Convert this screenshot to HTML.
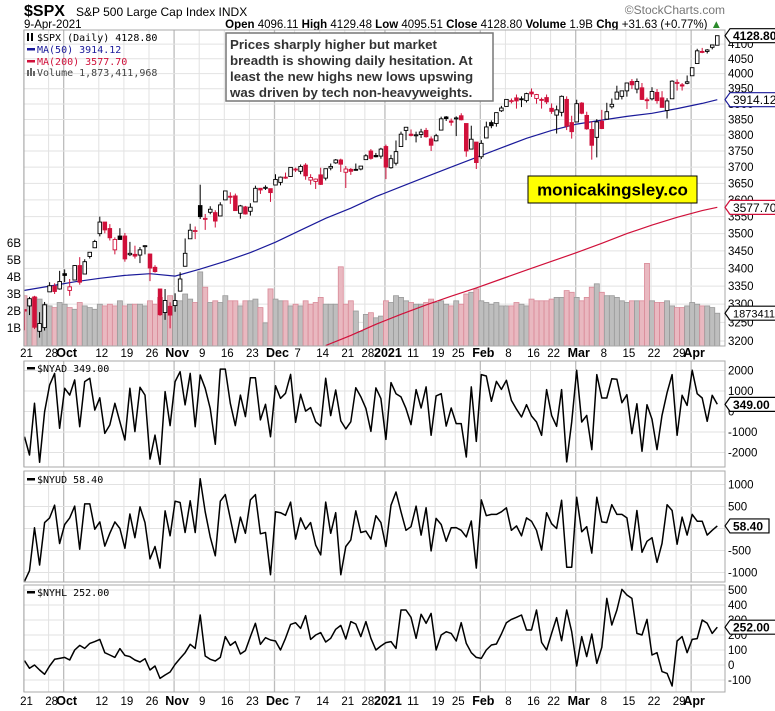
<!DOCTYPE html>
<html><head><meta charset="utf-8"><style>
html,body{margin:0;padding:0;background:#fff;}
svg{display:block;font-family:"Liberation Sans",Arial,sans-serif;}
</style></head><body>
<svg id="chart" width="775" height="711" viewBox="0 0 775 711" xmlns="http://www.w3.org/2000/svg">
<text x="24" y="16" font-size="16" font-weight="bold" fill="#000">$SPX</text>
<text x="76" y="16" font-size="12" fill="#000">S&amp;P 500 Large Cap Index  INDX</text>
<text x="24" y="28" font-size="11.5" fill="#000">9-Apr-2021</text>
<text x="722" y="28" font-size="11.5" text-anchor="end" fill="#000"><tspan font-weight="bold">Open</tspan> 4096.11 <tspan font-weight="bold">High</tspan> 4129.48 <tspan font-weight="bold">Low</tspan> 4095.51 <tspan font-weight="bold">Close</tspan> 4128.80 <tspan font-weight="bold">Volume</tspan> 1.9B <tspan font-weight="bold">Chg</tspan> +31.63 (+0.77%) <tspan fill="#2a8a2a">▲</tspan></text>
<text x="725" y="14" font-size="12" text-anchor="end" fill="#777">©StockCharts.com</text>
<g id="layer"></g>
</svg>
<script>
const closes=[3281,3315,3237,3247,3298,3351,3335,3363,
3380,3348,3408,3361,3419,3446,3477,3534,3511,3488,3483,3483,3427,3443,3435,3453,3465,3401,3391,3271,3310,3270,
3310,3370,3443,3510,3509,3550,3545,3572,3537,3585,3627,3610,3568,3582,3558,3578,3635,3630,3638,3622,
3662,3669,3666,3699,3692,3702,3673,3668,3663,3647,3695,3702,3722,3709,3694,3687,3690,3703,3735,3727,3732,3756,
3700,3726,3748,3803,3825,3799,3801,3810,3795,3768,3798,3852,3853,3841,3855,3849,3750,3787,3714,
3774,3826,3830,3872,3887,3915,3911,3910,3916,3934,3933,3931,3913,3907,3876,3881,3925,3829,3811,
3901,3870,3820,3768,3842,3821,3875,3899,3939,3943,3969,3963,3974,3915,3913,3941,3911,3889,3910,3975,3971,3959,3973,
4020,4077,4074,4080,4097,4128.8];
const opens=[3285,3295,3320,3226,3236,3334,3350,3342,
3385,3338,3367,3408,3384,3434,3459,3500,3534,3515,3453,3493,3493,3439,3440,3438,3464,3441,3403,3342,3277,3294,
3296,3336,3406,3485,3509,3583,3544,3563,3562,3552,3600,3611,3612,3560,3579,3566,3594,3635,3638,3634,
3645,3653,3669,3671,3694,3687,3706,3660,3656,3676,3666,3697,3713,3722,3684,3693,3693,3694,3723,3750,3736,3734,
3764,3698,3712,3764,3815,3803,3801,3802,3815,3788,3782,3816,3858,3845,3852,3862,3837,3756,3778,
3732,3791,3840,3837,3878,3892,3910,3920,3917,3911,3939,3918,3915,3921,3886,3864,3873,3915,3840,
3842,3903,3863,3818,3793,3844,3851,3891,3916,3925,3943,3974,3949,3953,3914,3917,3938,3920,3879,3917,3969,3963,3968,
3993,4034,4075,4075,4089,4096.1];
const highs=[3285,3320,3323,3278,3306,3361,3358,3393,
3397,3370,3409,3432,3426,3447,3482,3550,3534,3528,3489,3516,3502,3476,3465,3461,3466,3442,3409,3342,3342,3305,
3330,3389,3486,3529,3521,3646,3558,3581,3569,3593,3628,3623,3619,3585,3582,3590,3643,3636,3644,3634,
3678,3671,3683,3699,3698,3708,3712,3678,3665,3698,3695,3711,3725,3726,3703,3697,3711,3703,3740,3756,3744,3760,
3770,3738,3783,3811,3826,3818,3811,3820,3823,3796,3804,3859,3861,3853,3860,3870,3837,3830,3778,
3784,3843,3847,3872,3894,3916,3918,3931,3925,3937,3951,3933,3921,3931,3902,3895,3928,3925,3862,
3914,3906,3875,3844,3851,3881,3904,3918,3960,3944,3970,3982,3984,3969,3921,3955,3949,3942,3919,3978,3981,3969,3994,
4021,4084,4087,4083,4098,4129.5];
const lows=[3229,3270,3232,3209,3228,3334,3328,3340,
3361,3323,3367,3354,3384,3428,3458,3492,3501,3480,3440,3482,3419,3435,3428,3415,3440,3364,3388,3268,3257,3234,
3279,3336,3405,3485,3484,3543,3511,3557,3518,3552,3600,3588,3567,3544,3556,3553,3594,3618,3630,3594,
3645,3644,3664,3670,3685,3678,3661,3646,3633,3645,3659,3690,3710,3685,3636,3676,3689,3690,3723,3723,3730,3726,
3663,3695,3705,3764,3784,3796,3777,3791,3792,3750,3780,3816,3845,3830,3797,3847,3732,3756,3694,
3725,3791,3822,3827,3874,3892,3902,3885,3890,3905,3923,3901,3885,3900,3868,3805,3860,3816,3789,
3842,3867,3817,3723,3730,3819,3851,3885,3916,3915,3924,3949,3935,3913,3884,3912,3901,3889,3853,3917,3944,3944,3965,
3993,4034,4069,4068,4082,4095.5];
const volumes=[2.9,2.7,2.8,2.7,2.4,2.3,2.2,2.5,
2.4,2.2,2.1,2.5,2.3,2.2,2.1,2.4,2.3,2.4,2.3,2.6,2.3,2.4,2.4,2.4,2.3,2.6,2.4,2.8,2.6,2.9,
2.6,2.6,3.0,2.7,2.5,4.3,3.4,2.5,2.6,2.5,2.9,2.6,2.6,2.3,2.6,2.6,2.7,2.2,1.3,3.3,
2.7,2.6,2.6,2.3,2.4,2.3,2.6,2.4,2.5,2.8,2.4,2.4,2.4,4.6,2.4,2.6,2.0,0.8,1.8,1.9,1.6,1.7,
2.6,2.5,2.9,2.8,2.6,2.5,2.4,2.4,2.5,2.7,2.5,2.6,2.4,2.3,2.6,2.4,3.0,3.1,3.3,
2.6,2.5,2.4,2.5,2.3,2.3,2.3,2.5,2.4,2.3,2.7,2.6,2.6,2.6,2.7,2.8,2.8,3.2,3.1,
2.8,2.6,2.8,3.4,3.6,3.1,2.9,2.9,2.8,2.6,2.5,2.6,2.6,2.6,4.8,2.6,2.5,2.5,2.6,2.3,2.2,2.2,2.3,
2.5,2.4,2.3,2.3,2.2,1.87];
const ma50Bars=[0,5,10,15,20,25,30,35,40,45,50,55,60,65,70,75,80,85,90,95,100,105,110,115,120,125,130,135,138];
const ma50Vals=[3338,3350,3362,3372,3380,3385,3378,3398,3420,3445,3475,3510,3545,3575,3610,3640,3670,3700,3730,3760,3790,3815,3835,3848,3860,3870,3885,3902,3914.12];
const ma200Bars=[60,65,70,75,80,85,90,95,100,105,110,115,120,125,130,135,138];
const ma200Vals=[3188,3215,3245,3272,3298,3322,3345,3370,3395,3420,3445,3472,3500,3525,3548,3568,3577.7];
const nyad=[-1230,-2120,400,-2480,-10,1290,1860,-820,1130,800,1540,-740,1460,1620,70,670,-1070,-660,400,-500,
-1390,1130,-980,1180,800,-2320,-1150,-2580,970,-690,1460,1940,320,1860,-740,1780,1130,150,-1600,2070,
2070,400,-690,800,-250,1650,1650,-410,350,-1230,1260,640,890,1810,-530,840,20,190,-500,-710,
1620,-200,1050,-460,-850,-500,1160,720,150,
-970,1150,630,-1360,1410,870,710,140,-640,1070,170,1200,-1160,760,870,-710,170,-590,-590,-2220,
1200,-1460,1800,1730,500,1470,1080,1520,540,110,-270,330,-220,-510,-1160,1070,-190,-720,1070,-2460,
-510,2010,-510,-190,-1860,1800,660,660,1600,1570,430,820,-1080,380,-1940,330,-380,-1860,-190,920,
1800,-1160,790,300,2010,870,660,-480,790,349];
const nyud=[-1200,-960,15,-830,135,240,530,-340,90,240,510,-470,560,560,-15,150,-400,-110,150,0,
-450,330,-210,490,135,-690,-410,-900,400,-165,620,590,-90,630,-90,1130,380,-190,-620,620,
770,230,-320,260,-110,650,770,-120,-90,-1050,380,360,300,600,-240,240,-15,135,-380,-600,
600,-110,360,-1050,-410,-260,400,-90,-60,
-240,290,135,-410,530,830,380,-40,40,510,-150,470,-510,230,90,-290,15,20,-40,-190,
170,-900,650,290,320,320,380,470,-40,60,-165,240,165,-40,-490,360,110,0,640,-880,
-880,710,-75,40,-560,710,150,135,540,320,320,240,-490,410,-540,-290,-210,-770,-340,540,
410,-360,260,-150,320,165,165,-150,-40,58.4];
const nyhl=[29,-22,0,-33,-62,-7,38,44,51,33,100,131,111,144,156,171,82,67,51,109,
64,56,33,20,42,-33,-7,-89,-67,-47,4,44,82,138,111,333,60,38,27,51,
189,131,156,73,96,189,278,138,182,167,160,100,178,271,282,244,329,171,200,216,
153,178,238,264,173,289,273,189,289,
178,100,127,149,156,111,367,367,318,178,338,278,344,100,200,222,211,160,282,144,
82,51,44,100,133,140,207,282,304,318,333,233,233,367,151,100,211,316,162,367,
222,-7,189,56,207,11,118,444,267,367,504,467,444,211,200,304,67,82,-44,-56,
-140,160,189,82,171,176,300,278,211,252];
const mainTicks=[3200,3250,3300,3350,3400,3450,3500,3550,3600,3650,3700,3750,3800,3850,3900,3950,4000,4050,4100];
const volTicks=[1,2,3,4,5,6];
const nyadTicks=[2000,1000,0,-1000,-2000];
const nyudTicks=[1000,500,0,-500,-1000];
const nyhlTicks=[500,400,300,200,100,0,-100];
const dateLabels=['21','28','Oct','12','19','26','Nov','9','16','23','Dec','7','14','21','28','2021','11','19','25','Feb','8','16','22','Mar','8','15','22','29','Apr'];
const dateBars=[0,5,8,15,20,25,30,35,40,45,50,54,59,64,68,72,77,82,86,91,96,101,105,110,115,120,125,130,133];
const monthLabels=['Oct','Nov','Dec','2021','Feb','Mar','Apr'];

const NS='http://www.w3.org/2000/svg';
const layer=document.getElementById('layer');
function el(tag,attrs,parent){const e=document.createElementNS(NS,tag);for(const k in attrs)e.setAttribute(k,attrs[k]);(parent||layer).appendChild(e);return e;}
const L=24,R=725;
const X=i=>24.5+5.02*i;
const PY=p=>341-1198*Math.log(p/3200);
const VY=v=>345-17*v;
const ADY=v=>411.5-v*0.0205;
const UDY=v=>528.5-v*0.044;
const HLY=v=>665-v*0.15;
const panels=[{n:'price',t:30,b:346},{n:'nyad',t:361,b:467},{n:'nyud',t:471,b:582},{n:'nyhl',t:585,b:692}];

const defs=el('defs',{});
panels.forEach(p=>{const c=el('clipPath',{id:'clip-'+p.n},defs);el('rect',{x:L,y:p.t,width:R-L,height:p.b-p.t},c);});

panels.forEach(p=>{
  const g=el('g',{});
  
  
  dateBars.forEach((b,k)=>{
    const isM=monthLabels.includes(dateLabels[k]);
    const ln=el('line',{x1:X(b)-1,x2:X(b)-1,y1:p.t,y2:p.b,stroke:isM?'#bdbdbd':'#e2e2e2','stroke-width':isM?1.3:1},g);
    
    
  });
});
function hgrid(ticks,fy,pn){
  ticks.forEach(v=>{const y=fy(v);const ln=el('line',{x1:L,x2:R,y1:y,y2:y,stroke:'#e2e2e2'});
  
  });
}
hgrid(mainTicks,PY,'price');hgrid(nyadTicks,ADY,'nyad');hgrid(nyudTicks,UDY,'nyud');hgrid(nyhlTicks,HLY,'nyhl');

const vg=el('g',{'clip-path':'url(#clip-price)'});


volumes.forEach((v,i)=>{
  const prev=i?closes[i-1]:3320;const down=closes[i]<prev;
  const r=el('rect',{x:X(i)-2.5,y:VY(v),width:5.02,height:345-VY(v)+2,fill:down?'#e9b8c0':'#bebebe',stroke:down?'#d98a98':'#999','stroke-width':0.8},vg);
  
  
});
function lineFrom(bars,vals,fy){return bars.map((b,k)=>(k?'L':'M')+X(b).toFixed(1)+','+fy(vals[k]).toFixed(1)).join('');}
const ma50=el('path',{d:lineFrom(ma50Bars,ma50Vals,PY),fill:'none',stroke:'#1a1a9a','stroke-width':1.2,'clip-path':'url(#clip-price)'});


const ma200=el('path',{d:lineFrom(ma200Bars,ma200Vals,PY),fill:'none',stroke:'#d0103a','stroke-width':1.2,'clip-path':'url(#clip-price)'});


const cg=el('g',{'clip-path':'url(#clip-price)'});


closes.forEach((c,i)=>{
  const o=opens[i],prev=i?closes[i-1]:3320;const col=c<prev?'#d0103a':'#000';
  const x=X(i);const g=el('g',{},cg);
  
  
  el('line',{x1:x,x2:x,y1:PY(highs[i]),y2:PY(lows[i]),stroke:col,'stroke-width':1},g);
  const top=PY(Math.max(o,c)),bot=PY(Math.min(o,c));
  el('rect',{x:x-1.8,y:top,width:3.6,height:Math.max(bot-top,1),fill:c<o?col:'#fff',stroke:col,'stroke-width':0.9},g);
});
function series(vals,fy,pn){
  const d=vals.map((v,i)=>(i?'L':'M')+X(i).toFixed(1)+','+fy(v).toFixed(1)).join('');
  const p=el('path',{d:d,fill:'none',stroke:'#000','stroke-width':1.5,'stroke-linejoin':'round','clip-path':'url(#clip-'+pn+')'});
  
  
}
series(nyad,ADY,'nyad');series(nyud,UDY,'nyud');series(nyhl,HLY,'nyhl');

panels.forEach(p=>{const r=el('rect',{x:L,y:p.t,width:R-L,height:p.b-p.t,fill:'none',stroke:'#a8a8a8','stroke-width':1});

});

function axis(ticks,fy,fmt,pn){ticks.forEach(v=>{const t=el('text',{x:R+3,y:fy(v)+4,'font-size':11.5,fill:'#000'});t.textContent=fmt(v);

});}
axis(mainTicks,PY,v=>String(v),'price');
axis(nyadTicks,ADY,v=>String(v),'nyad');
axis(nyudTicks,UDY,v=>v===0?'':String(v),'nyud');
axis(nyhlTicks,HLY,v=>String(v),'nyhl');
volTicks.forEach(v=>{const t=el('text',{x:21,y:VY(v)+4,'font-size':11.5,'text-anchor':'end',fill:'#000'});t.textContent=v+'B';

});

[352,700].forEach((yy,row)=>{dateBars.forEach((b,k)=>{const lab=dateLabels[k];const isM=monthLabels.includes(lab);
  const t=el('text',{x:X(b)+2,y:yy+5,'font-size':isM?12.5:11.5,'font-weight':isM?'bold':'normal','text-anchor':'middle',fill:'#000'});t.textContent=lab;
  
  });});

function tag(y,txt,col,bold,name,fs){const g=el('g',{});
  
  
  const w=txt.length*(bold?6.6:6.2)+6;
  el('polygon',{points:`${R},${y} ${R+5},${y-7} ${R+5+w},${y-7} ${R+5+w},${y+7} ${R+5},${y+7}`,fill:'#fff',stroke:col,'stroke-width':1.2},g);
  const t=el('text',{x:R+8,y:y+4.5,'font-size':fs||12,'font-weight':bold?'bold':'normal',fill:'#000'},g);t.textContent=txt;}
tag(PY(4128.8),'4128.80','#000',true,'last-price-tag');
tag(PY(3914.12),'3914.12','#1a1a9a',false,'ma50-tag');
tag(PY(3577.7),'3577.70','#d0103a',false,'ma200-tag');
tag(VY(1.87),'1873411968','#000',false,'volume-tag',11);
tag(ADY(349),'349.00','#000',true,'nyad-tag');
tag(UDY(58.4),'58.40','#000',true,'nyud-tag');
tag(HLY(252),'252.00','#000',true,'nyhl-tag');

function leg(x,y,txt,col,name,mark){const g=el('g',{});
  
  
  if(mark==='line')el('rect',{x:x,y:y-5,width:8,height:2.5,fill:col},g);
  else if(mark==='bars'){el('rect',{x:x,y:y-6,width:2,height:6,fill:'#666'},g);el('rect',{x:x+3,y:y-8,width:2,height:8,fill:'#666'},g);el('rect',{x:x+6,y:y-5,width:2,height:5,fill:'#666'},g);}
  else {el('rect',{x:x,y:y-8,width:2,height:8,fill:'#000'},g);el('rect',{x:x+4,y:y-8,width:2,height:8,fill:'#000'},g);}
  const t=el('text',{x:x+10,y:y,'font-size':10,fill:col,'font-family':'DejaVu Sans Mono, Liberation Mono, monospace'},g);t.textContent=txt;}
leg(27,41,'$SPX (Daily) 4128.80','#000','price-legend','candle');
leg(27,53,'MA(50) 3914.12','#1a1a9a','ma50-legend','line');
leg(27,65,'MA(200) 3577.70','#d0103a','ma200-legend','line');
leg(27,76,'Volume 1,873,411,968','#444','volume-legend','bars');
leg(27,372,'$NYAD 349.00','#000','nyad-legend','line');
leg(27,483,'$NYUD 58.40','#000','nyud-legend','line');
leg(27,596,'$NYHL 252.00','#000','nyhl-legend','line');

const ab=el('g',{});


el('rect',{x:226,y:33,width:267,height:68,fill:'#fff',stroke:'#777','stroke-width':1.5},ab);
['Prices sharply higher but market','breadth is showing daily hesitation. At','least the new highs new lows upswing','was driven by tech non-heavyweights.'].forEach((s,k)=>{
  const t=el('text',{x:230,y:49+k*16,'font-size':13.3,'font-weight':'bold',fill:'#333'},ab);t.textContent=s;});
const wm=el('g',{});


el('rect',{x:528,y:176,width:169,height:27,fill:'#ffff00',stroke:'#000','stroke-width':1},wm);
const wt=el('text',{x:612.5,y:195.5,'font-size':17,'font-weight':'bold','text-anchor':'middle',fill:'#000'},wm);wt.textContent='monicakingsley.co';
</script>
</body></html>
